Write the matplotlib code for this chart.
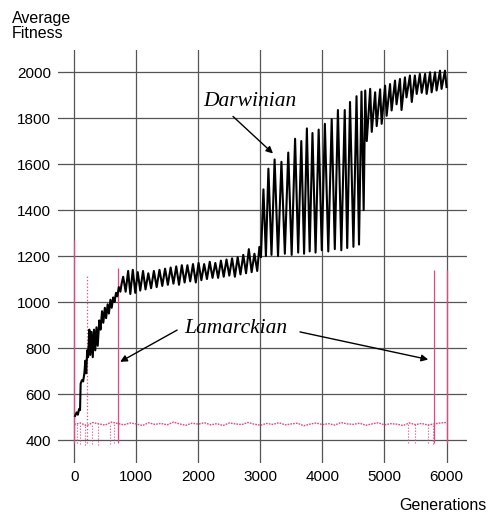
import matplotlib
matplotlib.use("Agg")
import matplotlib.pyplot as plt

# Darwinian run: turning points, in four stretches
early_gen = [15, 40, 60, 80, 95, 105, 125, 145, 165, 180, 195, 210, 225, 245, 260,
             280, 300, 320, 340, 360, 380, 405, 425, 450, 470, 495, 515, 540, 560,
             585, 605, 630, 650, 675, 695, 720, 745, 765]
early_fit = [505, 520, 510, 535, 530, 645, 660, 655, 690, 745, 690, 790, 760, 880, 770,
             870, 760, 880, 790, 890, 810, 920, 880, 960, 910, 975, 930, 990, 950,
             1010, 975, 1020, 1000, 1040, 1025, 1065, 1045, 1080]

plateau_gen = [790, 830, 870, 905, 945, 985, 1025, 1065, 1110, 1150, 1195, 1240,
               1285, 1330, 1375, 1420, 1465, 1510, 1555, 1600, 1645, 1690, 1735, 1780,
               1825, 1870, 1915, 1960, 2005, 2050, 2095, 2140, 2185, 2230, 2275, 2320,
               2365, 2410, 2455, 2500, 2545, 2590, 2635, 2680, 2725, 2770, 2815, 2860,
               2905, 2950, 2985]
plateau_fit = [1110, 1045, 1135, 1035, 1140, 1040, 1130, 1050, 1135, 1055, 1125, 1060,
               1135, 1065, 1140, 1070, 1145, 1075, 1150, 1080, 1155, 1075, 1160, 1085,
               1160, 1090, 1165, 1085, 1170, 1095, 1165, 1100, 1175, 1105, 1170, 1105,
               1180, 1110, 1185, 1115, 1190, 1110, 1195, 1120, 1205, 1125, 1230, 1130,
               1210, 1135, 1240]

burst_gen = [3010, 3050, 3090, 3130, 3180, 3230, 3285, 3340, 3395, 3450, 3505, 3560,
             3610, 3660, 3705, 3750, 3795, 3840, 3890, 3940, 3990, 4040, 4095, 4150,
             4200, 4250, 4305, 4360, 4400, 4445, 4500, 4550, 4590, 4630, 4665]
burst_fit = [1195, 1490, 1200, 1580, 1205, 1620, 1200, 1610, 1210, 1650, 1205, 1710,
             1215, 1700, 1210, 1755, 1220, 1735, 1215, 1750, 1225, 1775, 1220, 1795,
             1230, 1835, 1225, 1835, 1235, 1870, 1240, 1895, 1250, 1915, 1400]

late_gen = [4690, 4715, 4770, 4795, 4850, 4875, 4930, 4955, 5010, 5035, 5090, 5115,
            5170, 5195, 5250, 5275, 5330, 5355, 5410, 5440, 5490, 5520, 5570, 5600,
            5655, 5680, 5735, 5760, 5815, 5840, 5895, 5920, 5975, 6000]
late_fit = [1920, 1700, 1927, 1740, 1912, 1765, 1925, 1775, 1941, 1810, 1948, 1833,
            1963, 1860, 1970, 1835, 1977, 1890, 1985, 1870, 1985, 1905, 1992, 1910,
            1992, 1905, 1999, 1912, 1999, 1920, 2006, 1927, 2006, 1935]

# Lamarckian run: noisy floor plus a few spikes and dips
lam_gen = [0, 100, 200, 300, 400, 500, 600, 700, 800, 900, 1000, 1100, 1200, 1300,
           1400, 1500, 1600, 1700, 1800, 1900, 2000, 2100, 2200, 2300, 2400, 2500,
           2600, 2700, 2800, 2900, 3000, 3100, 3200, 3300, 3400, 3500, 3600, 3700,
           3800, 3900, 4000, 4100, 4200, 4300, 4400, 4500, 4600, 4700, 4800, 4900,
           5000, 5100, 5200, 5300, 5400, 5500, 5600, 5700, 5800, 5900, 6000]
lam_fit = [468, 474, 462, 476, 470, 465, 478, 472, 466, 474, 470, 463, 475, 468, 472,
           466, 478, 470, 464, 473, 469, 475, 466, 471, 463, 474, 470, 467, 476, 469,
           464, 472, 468, 475, 466, 470, 473, 462, 469, 474, 467, 471, 465, 476, 470,
           468, 473, 464, 470, 475, 466, 471, 469, 463, 474, 467, 472, 465, 470, 474,
           476]
spike_gen = [0, 205, 700, 5800, 6000]
spike_top = [1270, 1115, 1150, 1140, 1140]
dip_gen = [40, 100, 180, 290, 390, 580, 640, 5380, 5490, 5700, 5780]
dip_low = [385, 383, 380, 382, 380, 383, 385, 385, 387, 385, 384]

darwin_gen = early_gen + plateau_gen + burst_gen + late_gen
darwin_fit = early_fit + plateau_fit + burst_fit + late_fit

pink = "#e8457a"

fig = plt.figure(figsize=(4.88, 5.15), dpi=100)
ax = fig.add_axes([58 / 488, 1 - 463 / 515, (467 - 58) / 488, (463 - 50) / 515])

ax.plot(lam_gen, lam_fit, color=pink, lw=1.0, ls=(0, (1.2, 0.8)))
ax.vlines(spike_gen, 385, spike_top, colors=pink, lw=0.9,
          linestyles=["-", ":", "-", "-", "-"])
ax.vlines(dip_gen, dip_low, 470, colors=pink, lw=0.8, linestyles=":")
ax.plot(darwin_gen, darwin_fit, color="black", lw=1.5)

ax.set_xlim(-260, 6330)
ax.set_ylim(300, 2096)
ax.set_xticks(range(0, 6001, 1000))
ax.set_yticks(range(400, 2001, 200))
ax.grid(True, color="#555555", lw=0.9)
ax.set_axisbelow(True)
for s in ax.spines.values():
    s.set_visible(False)
ax.tick_params(length=0, labelsize=11, pad=5)
for lbl in ax.get_xticklabels() + ax.get_yticklabels():
    lbl.set_family("Liberation Sans")

ax.text(2834, 1872, "Darwinian", fontsize=15.5, style="italic",
        family="Liberation Serif", ha="center", va="center")
ax.annotate("", xy=(3204, 1646), xytext=(2560, 1807),
            arrowprops=dict(arrowstyle="-|>", color="black", lw=1, mutation_scale=10,
                            shrinkA=0, shrinkB=0))
ax.text(2609, 886, "Lamarckian", fontsize=15.5, style="italic",
        family="Liberation Serif", ha="center", va="center")
ax.annotate("", xy=(741, 740), xytext=(1659, 878),
            arrowprops=dict(arrowstyle="-|>", color="black", lw=1, mutation_scale=10,
                            shrinkA=0, shrinkB=0))
ax.annotate("", xy=(5705, 750), xytext=(3639, 870),
            arrowprops=dict(arrowstyle="-|>", color="black", lw=1, mutation_scale=10,
                            shrinkA=0, shrinkB=0))

fig.text(12 / 488, 1 - 11 / 515, "Average\nFitness", fontsize=11.5, family="Liberation Sans",
         ha="left", va="top", linespacing=1.0)
fig.text(486 / 488, 1 - 505 / 515, "Generations", fontsize=11.5, family="Liberation Sans",
         ha="right", va="center")

fig.savefig("out.png", dpi=100)
